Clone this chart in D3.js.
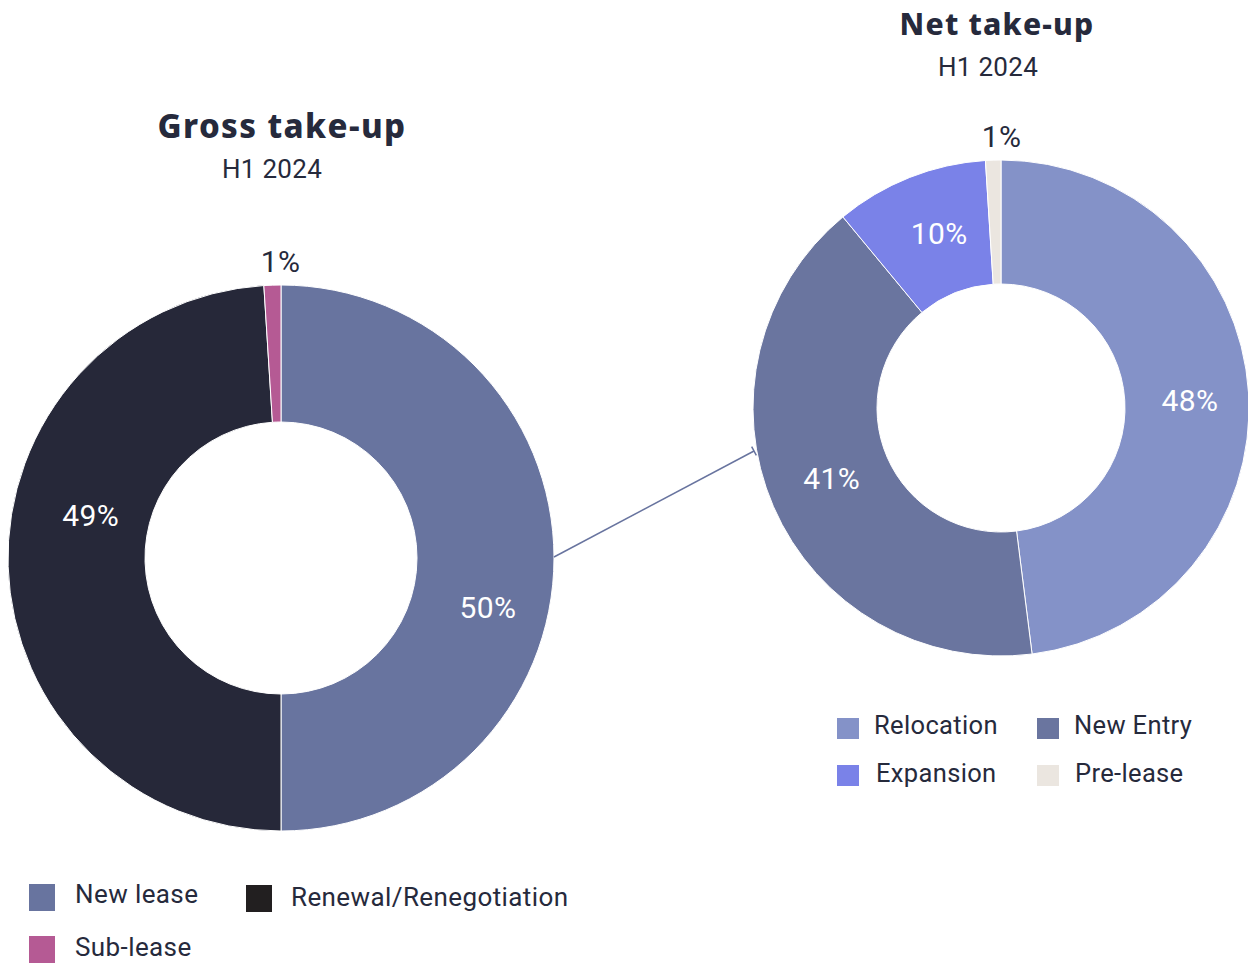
<!DOCTYPE html>
<html><head><meta charset="utf-8">
<script src="https://cdn.jsdelivr.net/npm/d3@7"></script>
<style>body{margin:0;background:#fff}svg{display:block}</style>
</head><body>
<svg id="c" width="1248" height="963"></svg>
<script>
const grossCategories = ["New lease", "Renewal/Renegotiation", "Sub-lease"];
const grossValues = [50, 49, 1];
const grossColors = ["#68749f", "#262839", "#b55a94"];
const grossLegendColors = ["#68749f", "#221f20", "#b55a94"];
const netCategories = ["Relocation", "New Entry", "Expansion", "Pre-lease"];
const netValues = [48, 41, 10, 1];
const netColors = ["#8492c8", "#6a759f", "#7a82e8", "#ebe6e0"];
const titles = ["Gross take-up", "Net take-up"];
const subtitle = "H1 2024";

const svg = d3.select("#c");
const textColor = "#262a3c";
const titleFont = "'Noto Sans', sans-serif";
const bodyFont = "Roboto, sans-serif";

function donut(cfg){
  const g = svg.append("g").attr("transform", `translate(${cfg.cx},${cfg.cy})`);
  const pie = d3.pie().sort(null).value(d=>d);
  const arcs = pie(cfg.values);
  const arc = d3.arc().innerRadius(cfg.r0).outerRadius(cfg.r1);
  g.selectAll("path").data(arcs).join("path")
    .attr("d", arc).attr("fill", (d,i)=>cfg.colors[i])
    .attr("stroke", "#fff").attr("stroke-width", 1);
  g.selectAll("text.lbl").data(arcs).join("text").attr("class","lbl")
    .each(function(d,i){
      const t = d3.select(this);
      const small = d.value < 3;
      const a = small ? (d.startAngle+d.endAngle)/2 : (d.startAngle+d.endAngle)/2 + cfg.labelOffset;
      const r = small ? cfg.r1 + 24 : cfg.labelR;
      t.attr("x", Math.sin(a)*r + (small ? 9 : cfg.xShift)).attr("y", -Math.cos(a)*r)
       .attr("dy", "0.36em").attr("text-anchor","middle")
       .attr("font-family", bodyFont).attr("font-size", 30).attr("letter-spacing", 0.4)
       .attr("fill", small ? textColor : "#fff")
       .text(d.value + "%");
    });
}

donut({cx:281, cy:558, r0:136, r1:273, values:grossValues, colors:grossColors, labelOffset:14*Math.PI/180, labelR:204, xShift:9});
donut({cx:1001, cy:408, r0:124, r1:248, values:netValues, colors:netColors, labelOffset:1.2*Math.PI/180, labelR:186, xShift:3});

// titles
function title(x, y, s, fs, ls){
  svg.append("text").attr("x",x).attr("y",y).attr("text-anchor","middle")
    .attr("font-family",titleFont).attr("font-weight",800).attr("font-size",fs)
    .attr("letter-spacing",ls).attr("fill",textColor).text(s);
}
function sub(x, y){
  svg.append("text").attr("x",x).attr("y",y).attr("text-anchor","middle")
    .attr("font-family",bodyFont).attr("font-size",26).attr("letter-spacing",0.3)
    .attr("fill",textColor).text(subtitle);
}
title(282, 138, titles[0], 33, 1.4); sub(272, 178);
title(997, 35, titles[1], 30, 1.2); sub(988, 76);

// connector
const x1 = 281 + 273, y1 = 557, x2 = 754, y2 = 451;
svg.append("line").attr("x1",x1).attr("y1",y1).attr("x2",x2).attr("y2",y2)
  .attr("stroke","#68749f").attr("stroke-width",1.5);
const ang = Math.atan2(y2-y1, x2-x1), px = -Math.sin(ang)*5, py = Math.cos(ang)*5;
svg.append("line").attr("x1",x2+px).attr("y1",y2+py).attr("x2",x2-px).attr("y2",y2-py)
  .attr("stroke","#68749f").attr("stroke-width",1.5);

// legends
const gl = [{x:29,y:884,tx:75,ty:903},{x:246,y:885,tx:291,ty:906},{x:29,y:936,tx:75,ty:956}];
grossCategories.forEach((c,i)=>{
  const p = gl[i];
  svg.append("rect").attr("x",p.x).attr("y",p.y).attr("width",26).attr("height",27).attr("fill",grossLegendColors[i]);
  svg.append("text").attr("x",p.tx).attr("y",p.ty)
    .attr("font-family",bodyFont).attr("font-size",26).attr("letter-spacing",0.4).attr("fill",textColor).text(c);
});
const nl = [{x:837,y:718,tx:874,ty:734},{x:1037,y:718,tx:1074,ty:734},{x:837,y:765,tx:876,ty:782},{x:1037,y:765,tx:1075,ty:782}];
netCategories.forEach((c,i)=>{
  const p = nl[i];
  svg.append("rect").attr("x",p.x).attr("y",p.y).attr("width",22).attr("height",21).attr("fill",netColors[i]);
  svg.append("text").attr("x",p.tx).attr("y",p.ty)
    .attr("font-family",bodyFont).attr("font-size",25.5).attr("letter-spacing",0.35).attr("fill",textColor).text(c);
});
</script>
</body></html>
